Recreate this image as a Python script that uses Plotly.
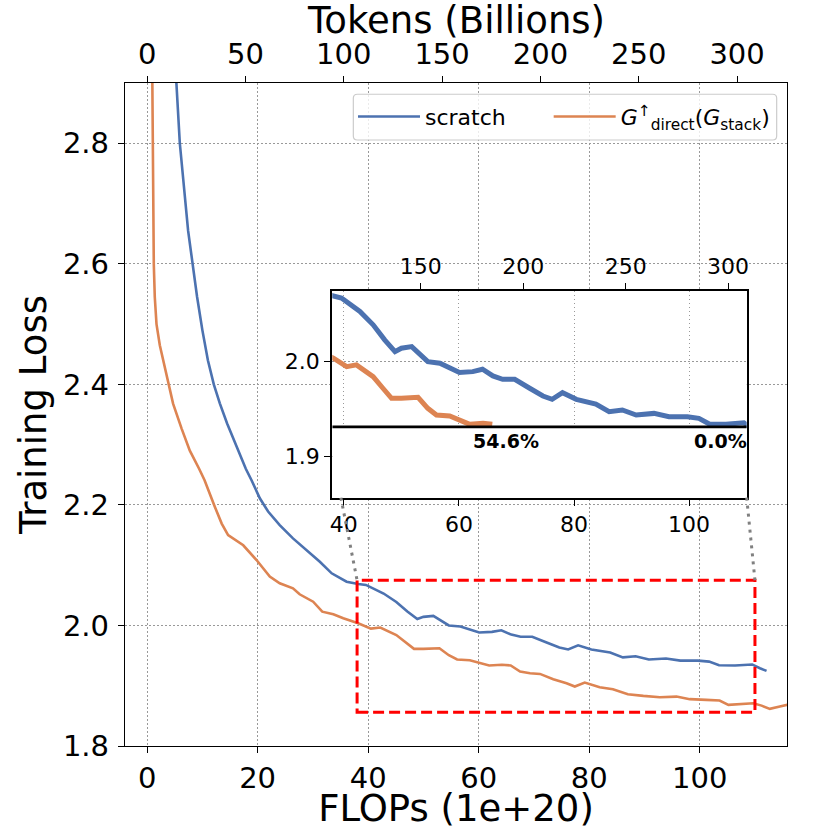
import plotly.graph_objects as go

# ---------------- data ----------------
FLOPS_SCRATCH = [5.3, 5.92, 7.42, 8.2, 9.05, 10.0, 11.0, 12.07, 13.16, 14.48, 16.18, 17.86, 18.9,
                 20.4, 21.9, 24.0, 26.4, 28.85, 31.26, 33.4, 36.1, 38.2, 39.6, 42.8, 45.1,
                 47.1, 48.9, 50.0, 51.8, 54.6, 56.7, 60.1, 62.4, 64.1, 65.9, 67.6, 69.7,
                 72.3, 74.6, 76.2, 78.0, 80.4, 83.8, 86.1, 88.4, 90.8, 93.9, 96.5, 99.7,
                 101.7, 103.5, 106.4, 109.5, 110.9, 112.1]
LOSS_SCRATCH = [2.9, 2.8, 2.655, 2.6, 2.545, 2.49, 2.44, 2.4, 2.3685, 2.335, 2.296, 2.26, 2.241,
                2.211, 2.189, 2.1665, 2.1445, 2.125, 2.1057, 2.0865, 2.0726, 2.0689, 2.0672, 2.053, 2.0389,
                2.023, 2.0106, 2.0142, 2.0159, 2.0, 1.9983, 1.9884, 1.9894, 1.9919, 1.9848, 1.9813, 1.9813,
                1.9718, 1.9636, 1.9601, 1.9671, 1.9601, 1.9551, 1.947, 1.9488, 1.9435, 1.9452, 1.9417, 1.9417,
                1.94, 1.934, 1.9336, 1.9353, 1.929, 1.9246]

FLOPS_STACK = [0.95, 1.0, 1.09, 1.21, 1.39, 1.7, 2.3, 3.2, 3.98, 4.7, 6.23, 7.73, 9.41, 10.4,
               12.25, 13.5, 14.66, 17.4, 19.8, 22.2, 24.0, 26.4, 27.6, 30.05, 31.7, 33.7, 35.5,
               37.3, 38.2, 40.5, 42.2, 45.1, 46.8, 48.3, 50.0, 52.9, 54.6, 56.1, 58.4, 60.1,
               61.9, 64.2, 65.8, 67.5, 69.3, 71.1, 73.5, 75.9, 77.4, 79.2, 81.9, 84.3, 87.0,
               89.8, 92.8, 95.8, 98.2, 101.2, 103.6, 105.2, 107.9, 109.7, 111.2, 112.7, 114.5, 116.3]
LOSS_STACK = [2.9, 2.8, 2.655, 2.6, 2.545, 2.5, 2.465, 2.429, 2.4, 2.368, 2.327, 2.29, 2.26, 2.241,
              2.197, 2.169, 2.15, 2.133, 2.1085, 2.081, 2.07, 2.0616, 2.0517, 2.0394, 2.0229, 2.0186, 2.0119,
              2.0063, 2.0036, 1.9947, 1.9965, 1.9841, 1.9718, 1.9612, 1.9612, 1.9622, 1.9506, 1.9435, 1.9424, 1.9382,
              1.9336, 1.9347, 1.9336, 1.9234, 1.9208, 1.9196, 1.9108, 1.9042, 1.8986, 1.9052, 1.8976, 1.8943, 1.886,
              1.8832, 1.881, 1.882, 1.8777, 1.8766, 1.8754, 1.8683, 1.8699, 1.871, 1.867, 1.8616, 1.8654, 1.8694]

TOKENS_PER_FLOP = 2.81            # Tokens (B) per 1e20 FLOPs (top axis scale)
X_RANGE = [-4.0, 115.8]
Y_RANGE = [1.8, 2.9]
ZOOM_X = [38, 110]
ZOOM_Y = [1.856, 2.075]
TARGET_LOSS = 1.931
STACK_CROSS_FLOPS = 65.8          # stack run reaches the target loss here
SAVING_LABELS = ["54.6%", "0.0%"]
SAVING_LABEL_X = [68.1, 105.4]
CONNECT_INSET_X = 39.5

MAIN_XTICKS = [0, 20, 40, 60, 80, 100]
TOKEN_TICKS = [0, 50, 100, 150, 200, 250, 300]
MAIN_YTICKS = [1.8, 2.0, 2.2, 2.4, 2.6, 2.8]
INSET_XTICKS = [40, 60, 80, 100]
INSET_TOKEN_TICKS = [150, 200, 250, 300]
INSET_YTICKS = [1.9, 2.0]

NAMES = ["scratch", "<i>G</i><sup>↑</sup><sub>direct</sub>(<i>G</i><sub>stack</sub>)"]
TOP_TITLE = "Tokens (Billions)"
BLUE = "#4C72B0"
ORANGE = "#DD8452"
FONT = "DejaVu Sans"

# layout geometry
W = H = 830
ML, MR, MT, MB = 125, 43, 83, 84
PW, PH = W - ML - MR, H - MT - MB
INSET_DX = [0.3131, 0.9391]
INSET_DY = [0.3745, 0.6867]
LEGEND_BOX = [0.3449, 0.9844, 0.914, 0.983]   # x0, x1, y0, y1 (paper)
LEGEND_X = [0.3444, 0.640]
LEGEND_Y = 0.9492
TOP_TITLE_Y = 1.094

fig = go.Figure()

fig.add_trace(go.Scatter(x=FLOPS_SCRATCH, y=LOSS_SCRATCH, mode="lines", name=NAMES[0],
                         line=dict(color=BLUE, width=2.6), xaxis="x", yaxis="y", legend="legend"))
fig.add_trace(go.Scatter(x=FLOPS_STACK, y=LOSS_STACK, mode="lines", name=NAMES[1],
                         line=dict(color=ORANGE, width=2.6), xaxis="x", yaxis="y", legend="legend2"))
# invisible trace to activate the top (tokens) axis
fig.add_trace(go.Scatter(x=[v * TOKENS_PER_FLOP for v in FLOPS_SCRATCH], y=LOSS_SCRATCH,
                         mode="lines", line=dict(width=0), opacity=0, showlegend=False,
                         hoverinfo="skip", xaxis="x2", yaxis="y"))

# inset
fig.add_trace(go.Scatter(x=FLOPS_SCRATCH, y=LOSS_SCRATCH, mode="lines", showlegend=False,
                         line=dict(color=BLUE, width=5), xaxis="x3", yaxis="y3"))
sx = [x for x in FLOPS_STACK if x <= STACK_CROSS_FLOPS]
sy = [y for x, y in zip(FLOPS_STACK, LOSS_STACK) if x <= STACK_CROSS_FLOPS]
fig.add_trace(go.Scatter(x=sx, y=sy, mode="lines", showlegend=False,
                         line=dict(color=ORANGE, width=5), xaxis="x3", yaxis="y3"))
fig.add_trace(go.Scatter(x=[v * TOKENS_PER_FLOP for v in FLOPS_SCRATCH], y=LOSS_SCRATCH,
                         mode="lines", line=dict(width=0), opacity=0, showlegend=False,
                         hoverinfo="skip", xaxis="x4", yaxis="y3"))

grid = dict(showgrid=True, gridcolor="#999999", gridwidth=1, griddash="1.5px,2.5px")
tickstyle = dict(ticks="outside", ticklen=6, tickwidth=1.3, tickcolor="black",
                 showline=True, linecolor="black", zeroline=False, automargin=False)
legend_common = dict(orientation="h", xanchor="left", yanchor="middle", y=LEGEND_Y,
                     bgcolor="rgba(0,0,0,0)", borderwidth=0, font=dict(size=22), itemwidth=62)

fig.update_layout(
    width=W, height=H,
    margin=dict(l=ML, r=MR, t=MT, b=MB),
    paper_bgcolor="white", plot_bgcolor="white",
    font=dict(family=FONT, color="black"),
    xaxis=dict(range=X_RANGE, tickvals=MAIN_XTICKS, tickfont=dict(size=29),
               linewidth=1.3, mirror=True, **tickstyle, **grid,
               title=dict(text="FLOPs (1e+20)", font=dict(size=37), standoff=5)),
    xaxis2=dict(range=[v * TOKENS_PER_FLOP for v in X_RANGE], tickvals=TOKEN_TICKS,
                overlaying="x", side="top", anchor="y", tickfont=dict(size=29),
                showgrid=False, **tickstyle, linewidth=1.3),
    yaxis=dict(range=Y_RANGE, tickvals=MAIN_YTICKS, tickformat=".1f", tickfont=dict(size=29),
               linewidth=1.3, mirror=True, **tickstyle, **grid, ticklabelstandoff=3,
               title=dict(text="Training Loss", font=dict(size=37), standoff=4)),
    xaxis3=dict(domain=INSET_DX, anchor="y3", range=ZOOM_X, tickvals=INSET_XTICKS,
                tickfont=dict(size=22), linewidth=2, mirror=True, **tickstyle, **grid),
    xaxis4=dict(range=[v * TOKENS_PER_FLOP for v in ZOOM_X], tickvals=INSET_TOKEN_TICKS,
                overlaying="x3", side="top", anchor="y3", tickfont=dict(size=22),
                showgrid=False, **tickstyle, linewidth=2),
    yaxis3=dict(domain=INSET_DY, anchor="x3", range=ZOOM_Y, tickvals=INSET_YTICKS,
                tickformat=".1f", tickfont=dict(size=22), linewidth=2, mirror=True,
                **tickstyle, **grid),
    legend=dict(x=LEGEND_X[0], **legend_common),
    legend2=dict(x=LEGEND_X[1], **legend_common),
    showlegend=True,
)

# top axis title
fig.add_annotation(x=0.5, y=TOP_TITLE_Y, xref="paper", yref="paper", text=TOP_TITLE,
                   showarrow=False, xanchor="center", yanchor="middle",
                   font=dict(size=37, family=FONT, color="black"))

# legend frame (rounded, semi-transparent white)
rx, ry = 4.0 / PW, 4.0 / PH
bx0, bx1, by0, by1 = LEGEND_BOX
frame = (f"M {bx0 + rx},{by0} L {bx1 - rx},{by0} Q {bx1},{by0} {bx1},{by0 + ry} "
         f"L {bx1},{by1 - ry} Q {bx1},{by1} {bx1 - rx},{by1} L {bx0 + rx},{by1} "
         f"Q {bx0},{by1} {bx0},{by1 - ry} L {bx0},{by0 + ry} Q {bx0},{by0} {bx0 + rx},{by0} Z")
fig.add_shape(type="path", xref="paper", yref="paper", path=frame,
              fillcolor="rgba(255,255,255,0.8)", line=dict(color="#cccccc", width=1.2),
              layer="above")

# white area below the target line inside the inset
fig.add_shape(type="rect", xref="x3", yref="y3", x0=ZOOM_X[0], x1=ZOOM_X[1],
              y0=ZOOM_Y[0], y1=TARGET_LOSS, fillcolor="white", line=dict(width=0),
              layer="between")
fig.add_shape(type="line", xref="x3", yref="y3", x0=ZOOM_X[0], x1=ZOOM_X[1],
              y0=TARGET_LOSS, y1=TARGET_LOSS, line=dict(color="black", width=2.7), layer="above")

for txt, xv in zip(SAVING_LABELS, SAVING_LABEL_X):
    fig.add_annotation(x=xv, y=TARGET_LOSS, xref="x3", yref="y3", text="<b>%s</b>" % txt,
                       showarrow=False, xanchor="center", yanchor="top", yshift=-1,
                       font=dict(size=19, family=FONT, color="black"))

# zoom box on main axes
fig.add_shape(type="rect", xref="x", yref="y", x0=ZOOM_X[0], x1=ZOOM_X[1],
              y0=ZOOM_Y[0], y1=ZOOM_Y[1], line=dict(color="red", width=3, dash="11px,5px"),
              layer="above")


def main_paper(xv, yv):
    return ((xv - X_RANGE[0]) / (X_RANGE[1] - X_RANGE[0]),
            (yv - Y_RANGE[0]) / (Y_RANGE[1] - Y_RANGE[0]))


def inset_paper(xv, yv):
    return (INSET_DX[0] + (xv - ZOOM_X[0]) / (ZOOM_X[1] - ZOOM_X[0]) * (INSET_DX[1] - INSET_DX[0]),
            INSET_DY[0] + (yv - ZOOM_Y[0]) / (ZOOM_Y[1] - ZOOM_Y[0]) * (INSET_DY[1] - INSET_DY[0]))


for ix, mx in [(CONNECT_INSET_X, ZOOM_X[0]), (ZOOM_X[1], ZOOM_X[1])]:
    p0 = inset_paper(ix, ZOOM_Y[0])
    p1 = main_paper(mx, ZOOM_Y[1])
    fig.add_shape(type="line", xref="paper", yref="paper", x0=p0[0], y0=p0[1], x1=p1[0], y1=p1[1],
                  line=dict(color="#808080", width=3, dash="3px,5px"), layer="above")

fig.write_html("out.html", config={"displayModeBar": False},
               post_script="document.body.style.margin='0';")
